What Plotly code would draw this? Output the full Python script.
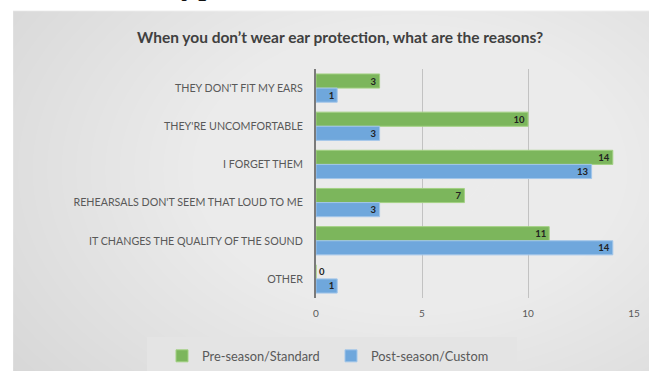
import plotly.graph_objects as go

categories = ["THEY DON'T FIT MY EARS", "THEY'RE UNCOMFORTABLE", "I FORGET THEM",
              "REHEARSALS DON'T SEEM THAT LOUD TO ME", "IT CHANGES THE QUALITY OF THE SOUND", "OTHER"]
pre_season = [3, 10, 14, 7, 11, 0]
post_season = [1, 3, 13, 3, 14, 1]
series_names = ["Pre-season/Standard", "Post-season/Custom"]
x_ticks = [0, 5, 10, 15]
title_text = "When you don\u2019t wear ear protection, what are the reasons?"

W, H = 649, 371
L, R, T, B = 316, 15, 69, 73
PW, PH = W - L - R, H - T - B

def px(x):
    return (x - L) / PW

def py(y):
    return (H - B - y) / PH

FONT = "Lato"
GREEN = "#7cb65c"
GREEN_LINE = "#a3d183"
BLUE = "#6fa7dc"
BLUE_LINE = "#a2c6ea"

def positions(vals):
    return ["outside" if v == 0 else "inside" for v in vals]

fig = go.Figure()
fig.add_trace(go.Bar(
    y=categories, x=pre_season, name=series_names[0], orientation="h",
    marker=dict(color=GREEN, line=dict(color=GREEN_LINE, width=1)),
    text=[str(v) for v in pre_season], textposition=positions(pre_season),
    insidetextanchor="end", constraintext="none", textangle=0,
    textfont=dict(family=FONT, size=9.5, color="#222222", weight="bold"),
    cliponaxis=False, legend="legend",
))
fig.add_trace(go.Bar(
    y=categories, x=post_season, name=series_names[1], orientation="h",
    marker=dict(color=BLUE, line=dict(color=BLUE_LINE, width=1)),
    text=[str(v) for v in post_season], textposition=positions(post_season),
    insidetextanchor="end", constraintext="none", textangle=0,
    textfont=dict(family=FONT, size=9.5, color="#222222", weight="bold"),
    cliponaxis=False, legend="legend2",
))

shapes = []
# panel base
shapes.append(dict(type="rect", xref="paper", yref="paper", layer="below",
                   x0=px(13), x1=px(W + 5), y0=py(11), y1=py(H + 5),
                   fillcolor="#c9c9c9", line=dict(color="#dedede", width=1)))
# radial highlight approximated with many soft nested ellipses
cx, cy = 410, 170
n = 40
for i in range(n):
    f = 1 - i / n
    rx, ry = 580 * f + 15, 390 * f + 10
    shapes.append(dict(type="circle", xref="paper", yref="paper", layer="below",
                       x0=px(cx - rx), x1=px(cx + rx),
                       y0=py(cy + ry), y1=py(cy - ry),
                       fillcolor="white", opacity=0.047, line=dict(width=0)))
# white page strip over the ellipse overflow (left and top of panel)
shapes.append(dict(type="rect", xref="paper", yref="paper", layer="below",
                   x0=px(-300), x1=px(13), y0=py(-300), y1=py(H + 50),
                   fillcolor="white", line=dict(width=0)))
shapes.append(dict(type="rect", xref="paper", yref="paper", layer="below",
                   x0=px(-300), x1=px(W + 300), y0=py(-300), y1=py(10.5),
                   fillcolor="white", line=dict(width=0)))
# legend box
shapes.append(dict(type="rect", xref="paper", yref="paper", layer="below",
                   x0=px(147), x1=px(517), y0=py(337), y1=py(H + 5),
                   fillcolor="#e4e4e4", line=dict(width=0)))

legend_common = dict(orientation="h", yanchor="middle", xanchor="left",
                     xref="container", yref="container",
                     bgcolor="rgba(0,0,0,0)", font=dict(size=12.8, color="#595959", family=FONT),
                     itemwidth=30)

fig.update_layout(
    width=W, height=H,
    margin=dict(l=L, r=R, t=T, b=B, pad=0, autoexpand=False),
    paper_bgcolor="white", plot_bgcolor="rgba(0,0,0,0)",
    barmode="group", bargap=0.26, bargroupgap=0,
    font=dict(family=FONT, color="#595959"),
    showlegend=True,
    legend=dict(x=162 / W, y=1 - 356 / H, **legend_common),
    legend2=dict(x=331 / W, y=1 - 356 / H, **legend_common),
    shapes=shapes,
    annotations=[
        dict(text="<b>" + title_text + "</b>", xref="paper", yref="paper",
             x=px(340), y=py(37), xanchor="center", yanchor="middle", showarrow=False,
             font=dict(family=FONT, size=15.5, color="#404040")),
        dict(text="yp", xref="paper", yref="paper", x=px(198), y=py(3),
             xanchor="center", yanchor="bottom", showarrow=False,
             font=dict(family="Liberation Serif", size=34, color="#111111")),
    ],
    xaxis=dict(range=[0, 15], tickvals=x_ticks, showgrid=True, gridcolor="#c2c2c2", gridwidth=1,
               zeroline=False, showline=False, ticks="", ticklabelstandoff=8,
               tickfont=dict(size=10, color="#595959", family=FONT), fixedrange=True),
    yaxis=dict(autorange="reversed", showline=True, linecolor="#7a7a7a", linewidth=2,
               ticks="", showgrid=False, ticklabelstandoff=9,
               tickfont=dict(size=10.7, color="#595959", family=FONT)),
)

fig.write_html("out.html")
